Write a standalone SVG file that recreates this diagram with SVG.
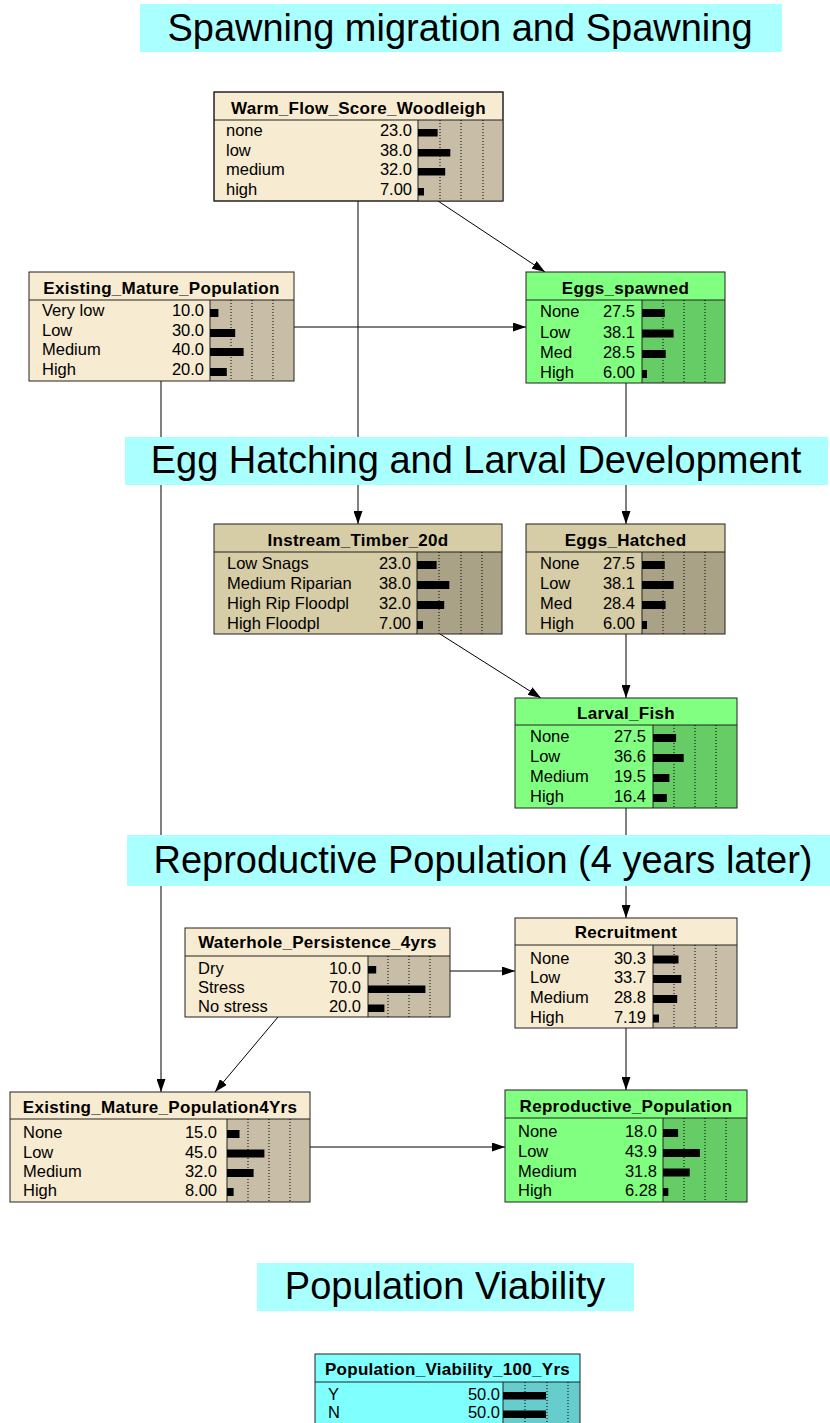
<svg xmlns="http://www.w3.org/2000/svg" width="830" height="1423" viewBox="0 0 830 1423">
<defs>
<marker id="ah" markerUnits="userSpaceOnUse" markerWidth="13" markerHeight="9" refX="13" refY="4.5" orient="auto">
<path d="M0,0 L13,4.5 L0,9 z" fill="#000"/>
</marker>
<style>
.t{font-family:"Liberation Sans",Arial,sans-serif;font-weight:bold;font-size:17px;letter-spacing:0.3px;text-anchor:middle;fill:#000}
.l{font-family:"Liberation Sans",Arial,sans-serif;font-size:16.5px;fill:#000}
.v{font-family:"Liberation Sans",Arial,sans-serif;font-size:16.5px;fill:#000;text-anchor:end}
.h{font-family:"Liberation Sans",Arial,sans-serif;font-size:38px;text-anchor:middle;fill:#000}
.hb{fill:#aaffff}
.box{stroke:#222;stroke-width:1}
.sep{stroke:#222;stroke-width:1}
.dot{stroke:#000;stroke-width:1;stroke-dasharray:1 2}
.bar{fill:#000}
.beige{fill:#f7ebd1}
.beigeb{fill:#c8bea8}
.tan{fill:#d6cca6}
.tanb{fill:#aaa287}
.green{fill:#80ff80}
.greenb{fill:#66cc66}
.cyan{fill:#80ffff}
.cyanb{fill:#66cccc}
.c{stroke:#000;stroke-width:1;fill:none;marker-end:url(#ah)}
</style>
</defs>
<rect width="830" height="1423" fill="#fff"/>

<g id="connectors">
<line class="c" x1="438" y1="201" x2="545" y2="272"/>
<line class="c" x1="358" y1="201" x2="358" y2="524"/>
<line class="c" x1="294" y1="327" x2="526" y2="327"/>
<line class="c" x1="161" y1="381" x2="161" y2="1092"/>
<line class="c" x1="626" y1="383" x2="626" y2="524"/>
<line class="c" x1="440" y1="634" x2="541" y2="698"/>
<line class="c" x1="626" y1="634" x2="626" y2="698"/>
<line class="c" x1="626" y1="808" x2="626" y2="918"/>
<line class="c" x1="450" y1="971" x2="515" y2="971"/>
<line class="c" x1="278" y1="1017" x2="215" y2="1092"/>
<line class="c" x1="626" y1="1028" x2="626" y2="1090"/>
<line class="c" x1="310" y1="1147" x2="505" y2="1147"/>
</g>

<g id="heading1"><rect class="hb" x="140" y="4" width="642" height="48"/><text class="h" x="460" y="41">Spawning migration and Spawning</text></g>
<g id="heading2"><rect class="hb" x="125" y="437" width="703" height="48"/><text class="h" x="476" y="473">Egg Hatching and Larval Development</text></g>
<g id="heading3"><rect class="hb" x="127" y="835" width="703" height="51"/><text class="h" x="483" y="873">Reproductive Population (4 years later)</text></g>
<g id="heading4"><rect class="hb" x="257" y="1263" width="377" height="48"/><text class="h" x="445" y="1299">Population Viability</text></g>

<g id="warm_flow">
<rect class="beige box" x="214" y="92" width="289" height="109"/>
<rect class="beigeb" x="418" y="120" width="85" height="81"/>
<line class="sep" x1="214" y1="120" x2="503" y2="120"/>
<line class="sep" x1="418" y1="120" x2="418" y2="201"/>
<line class="dot" x1="440" y1="120" x2="440" y2="201"/><line class="dot" x1="461" y1="120" x2="461" y2="201"/><line class="dot" x1="483" y1="120" x2="483" y2="201"/>
<rect class="box" x="214" y="92" width="289" height="109" fill="none"/>
<text class="t" x="358.5" y="114">Warm_Flow_Score_Woodleigh</text>
<text class="l" x="226" y="136">none</text><text class="v" x="412" y="136">23.0</text><rect class="bar" x="418" y="129" width="19.6" height="7.5"/>
<text class="l" x="226" y="156">low</text><text class="v" x="412" y="156">38.0</text><rect class="bar" x="418" y="149" width="32.3" height="7.5"/>
<text class="l" x="226" y="175">medium</text><text class="v" x="412" y="175">32.0</text><rect class="bar" x="418" y="168" width="27.2" height="7.5"/>
<text class="l" x="226" y="195">high</text><text class="v" x="412" y="195">7.00</text><rect class="bar" x="418" y="188" width="6" height="7.5"/>
</g>

<g id="existing_mature_population">
<rect class="beige" x="29" y="272" width="265" height="109"/>
<rect class="beigeb" x="210" y="300" width="84" height="81"/>
<line class="sep" x1="29" y1="300" x2="294" y2="300"/>
<line class="sep" x1="210" y1="300" x2="210" y2="381"/>
<line class="dot" x1="231" y1="300" x2="231" y2="381"/><line class="dot" x1="252" y1="300" x2="252" y2="381"/><line class="dot" x1="273" y1="300" x2="273" y2="381"/>
<rect class="box" x="29" y="272" width="265" height="109" fill="none"/>
<text class="t" x="161.5" y="294">Existing_Mature_Population</text>
<text class="l" x="42" y="316">Very low</text><text class="v" x="204" y="316">10.0</text><rect class="bar" x="210" y="309" width="8.4" height="8"/>
<text class="l" x="42" y="336">Low</text><text class="v" x="204" y="336">30.0</text><rect class="bar" x="210" y="329" width="25.2" height="8"/>
<text class="l" x="42" y="355">Medium</text><text class="v" x="204" y="355">40.0</text><rect class="bar" x="210" y="348" width="33.6" height="8"/>
<text class="l" x="42" y="375">High</text><text class="v" x="204" y="375">20.0</text><rect class="bar" x="210" y="368" width="16.8" height="8"/>
</g>

<g id="eggs_spawned">
<rect class="green" x="526" y="272" width="199" height="111"/>
<rect class="greenb" x="642" y="300" width="83" height="83"/>
<line class="sep" x1="526" y1="300" x2="725" y2="300"/>
<line class="sep" x1="642" y1="300" x2="642" y2="383"/>
<line class="dot" x1="663" y1="300" x2="663" y2="383"/><line class="dot" x1="684" y1="300" x2="684" y2="383"/><line class="dot" x1="705" y1="300" x2="705" y2="383"/>
<rect class="box" x="526" y="272" width="199" height="111" fill="none"/>
<text class="t" x="625.5" y="294">Eggs_spawned</text>
<text class="l" x="540" y="317">None</text><text class="v" x="635" y="317">27.5</text><rect class="bar" x="642" y="309" width="22.8" height="8"/>
<text class="l" x="540" y="337.5">Low</text><text class="v" x="635" y="337.5">38.1</text><rect class="bar" x="642" y="329.5" width="31.6" height="8"/>
<text class="l" x="540" y="358">Med</text><text class="v" x="635" y="358">28.5</text><rect class="bar" x="642" y="350" width="23.7" height="8"/>
<text class="l" x="540" y="378">High</text><text class="v" x="635" y="378">6.00</text><rect class="bar" x="642" y="370" width="5" height="8"/>
</g>

<g id="instream_timber">
<rect class="tan" x="214" y="524" width="288" height="110"/>
<rect class="tanb" x="417" y="552" width="85" height="82"/>
<line class="sep" x1="214" y1="552" x2="502" y2="552"/>
<line class="sep" x1="417" y1="552" x2="417" y2="634"/>
<line class="dot" x1="439" y1="552" x2="439" y2="634"/><line class="dot" x1="461" y1="552" x2="461" y2="634"/><line class="dot" x1="482" y1="552" x2="482" y2="634"/>
<rect class="box" x="214" y="524" width="288" height="110" fill="none"/>
<text class="t" x="358" y="546">Instream_Timber_20d</text>
<text class="l" x="227" y="569">Low Snags</text><text class="v" x="411" y="569">23.0</text><rect class="bar" x="417" y="561" width="19.6" height="8"/>
<text class="l" x="227" y="589">Medium Riparian</text><text class="v" x="411" y="589">38.0</text><rect class="bar" x="417" y="581" width="32.3" height="8"/>
<text class="l" x="227" y="609">High Rip Floodpl</text><text class="v" x="411" y="609">32.0</text><rect class="bar" x="417" y="601" width="27.2" height="8"/>
<text class="l" x="227" y="629">High Floodpl</text><text class="v" x="411" y="629">7.00</text><rect class="bar" x="417" y="621" width="6" height="8"/>
</g>

<g id="eggs_hatched">
<rect class="tan" x="526" y="524" width="199" height="110"/>
<rect class="tanb" x="642" y="552" width="83" height="82"/>
<line class="sep" x1="526" y1="552" x2="725" y2="552"/>
<line class="sep" x1="642" y1="552" x2="642" y2="634"/>
<line class="dot" x1="663" y1="552" x2="663" y2="634"/><line class="dot" x1="684" y1="552" x2="684" y2="634"/><line class="dot" x1="705" y1="552" x2="705" y2="634"/>
<rect class="box" x="526" y="524" width="199" height="110" fill="none"/>
<text class="t" x="625.5" y="546">Eggs_Hatched</text>
<text class="l" x="540" y="569">None</text><text class="v" x="635" y="569">27.5</text><rect class="bar" x="642" y="561" width="22.8" height="8"/>
<text class="l" x="540" y="589">Low</text><text class="v" x="635" y="589">38.1</text><rect class="bar" x="642" y="581" width="31.6" height="8"/>
<text class="l" x="540" y="609">Med</text><text class="v" x="635" y="609">28.4</text><rect class="bar" x="642" y="601" width="23.6" height="8"/>
<text class="l" x="540" y="629">High</text><text class="v" x="635" y="629">6.00</text><rect class="bar" x="642" y="621" width="5" height="8"/>
</g>

<g id="larval_fish">
<rect class="green" x="515" y="698" width="222" height="110"/>
<rect class="greenb" x="653" y="725" width="84" height="83"/>
<line class="sep" x1="515" y1="725" x2="737" y2="725"/>
<line class="sep" x1="653" y1="725" x2="653" y2="808"/>
<line class="dot" x1="674" y1="725" x2="674" y2="808"/><line class="dot" x1="695" y1="725" x2="695" y2="808"/><line class="dot" x1="716" y1="725" x2="716" y2="808"/>
<rect class="box" x="515" y="698" width="222" height="110" fill="none"/>
<text class="t" x="626" y="719">Larval_Fish</text>
<text class="l" x="530" y="742">None</text><text class="v" x="646" y="742">27.5</text><rect class="bar" x="653" y="734" width="23.1" height="8"/>
<text class="l" x="530" y="762">Low</text><text class="v" x="646" y="762">36.6</text><rect class="bar" x="653" y="754" width="30.7" height="8"/>
<text class="l" x="530" y="782">Medium</text><text class="v" x="646" y="782">19.5</text><rect class="bar" x="653" y="774" width="16.4" height="8"/>
<text class="l" x="530" y="802">High</text><text class="v" x="646" y="802">16.4</text><rect class="bar" x="653" y="794" width="13.8" height="8"/>
</g>

<g id="waterhole_persistence">
<rect class="beige" x="185" y="928" width="265" height="89"/>
<rect class="beigeb" x="368" y="956" width="82" height="61"/>
<line class="sep" x1="185" y1="956" x2="450" y2="956"/>
<line class="sep" x1="368" y1="956" x2="368" y2="1017"/>
<line class="dot" x1="388" y1="956" x2="388" y2="1017"/><line class="dot" x1="409" y1="956" x2="409" y2="1017"/><line class="dot" x1="430" y1="956" x2="430" y2="1017"/>
<rect class="box" x="185" y="928" width="265" height="89" fill="none"/>
<text class="t" x="317.5" y="948">Waterhole_Persistence_4yrs</text>
<text class="l" x="198" y="974">Dry</text><text class="v" x="361" y="974">10.0</text><rect class="bar" x="368" y="966" width="8.2" height="7.5"/>
<text class="l" x="198" y="993">Stress</text><text class="v" x="361" y="993">70.0</text><rect class="bar" x="368" y="985.5" width="57.4" height="7.5"/>
<text class="l" x="198" y="1012">No stress</text><text class="v" x="361" y="1012">20.0</text><rect class="bar" x="368" y="1004.5" width="16.4" height="7.5"/>
</g>

<g id="recruitment">
<rect class="beige" x="515" y="918" width="222" height="110"/>
<rect class="beigeb" x="653" y="945" width="84" height="83"/>
<line class="sep" x1="515" y1="945" x2="737" y2="945"/>
<line class="sep" x1="653" y1="945" x2="653" y2="1028"/>
<line class="dot" x1="674" y1="945" x2="674" y2="1028"/><line class="dot" x1="695" y1="945" x2="695" y2="1028"/><line class="dot" x1="716" y1="945" x2="716" y2="1028"/>
<rect class="box" x="515" y="918" width="222" height="110" fill="none"/>
<text class="t" x="626" y="938">Recruitment</text>
<text class="l" x="530" y="963.5">None</text><text class="v" x="646" y="963.5">30.3</text><rect class="bar" x="653" y="955.5" width="25.5" height="8"/>
<text class="l" x="530" y="983">Low</text><text class="v" x="646" y="983">33.7</text><rect class="bar" x="653" y="975" width="28.3" height="8"/>
<text class="l" x="530" y="1003">Medium</text><text class="v" x="646" y="1003">28.8</text><rect class="bar" x="653" y="995" width="24.2" height="8"/>
<text class="l" x="530" y="1022.5">High</text><text class="v" x="646" y="1022.5">7.19</text><rect class="bar" x="653" y="1014.5" width="6" height="8"/>
</g>

<g id="existing_mature_population_4yrs">
<rect class="beige" x="10" y="1092" width="300" height="110"/>
<rect class="beigeb" x="227" y="1119" width="83" height="83"/>
<line class="sep" x1="10" y1="1119" x2="310" y2="1119"/>
<line class="sep" x1="227" y1="1119" x2="227" y2="1202"/>
<line class="dot" x1="248" y1="1119" x2="248" y2="1202"/><line class="dot" x1="269" y1="1119" x2="269" y2="1202"/><line class="dot" x1="290" y1="1119" x2="290" y2="1202"/>
<rect class="box" x="10" y="1092" width="300" height="110" fill="none"/>
<text class="t" x="160" y="1113">Existing_Mature_Population4Yrs</text>
<text class="l" x="23" y="1138">None</text><text class="v" x="217" y="1138">15.0</text><rect class="bar" x="227" y="1130" width="12.5" height="8"/>
<text class="l" x="23" y="1157.5">Low</text><text class="v" x="217" y="1157.5">45.0</text><rect class="bar" x="227" y="1149.5" width="37.4" height="8"/>
<text class="l" x="23" y="1177">Medium</text><text class="v" x="217" y="1177">32.0</text><rect class="bar" x="227" y="1169" width="26.6" height="8"/>
<text class="l" x="23" y="1196">High</text><text class="v" x="217" y="1196">8.00</text><rect class="bar" x="227" y="1188" width="6.6" height="8"/>
</g>

<g id="reproductive_population">
<rect class="green" x="505" y="1090" width="242" height="112"/>
<rect class="greenb" x="663" y="1118" width="84" height="84"/>
<line class="sep" x1="505" y1="1118" x2="747" y2="1118"/>
<line class="sep" x1="663" y1="1118" x2="663" y2="1202"/>
<line class="dot" x1="684" y1="1118" x2="684" y2="1202"/><line class="dot" x1="705" y1="1118" x2="705" y2="1202"/><line class="dot" x1="726" y1="1118" x2="726" y2="1202"/>
<rect class="box" x="505" y="1090" width="242" height="112" fill="none"/>
<text class="t" x="626" y="1112">Reproductive_Population</text>
<text class="l" x="518" y="1137">None</text><text class="v" x="657" y="1137">18.0</text><rect class="bar" x="663" y="1129" width="15.1" height="8"/>
<text class="l" x="518" y="1157">Low</text><text class="v" x="657" y="1157">43.9</text><rect class="bar" x="663" y="1149" width="36.9" height="8"/>
<text class="l" x="518" y="1176.5">Medium</text><text class="v" x="657" y="1176.5">31.8</text><rect class="bar" x="663" y="1168.5" width="26.7" height="8"/>
<text class="l" x="518" y="1196">High</text><text class="v" x="657" y="1196">6.28</text><rect class="bar" x="663" y="1188" width="5.3" height="8"/>
</g>

<g id="population_viability">
<rect class="cyan" x="315" y="1354" width="265" height="80"/>
<rect class="cyanb" x="503" y="1382" width="77" height="52"/>
<line class="sep" x1="315" y1="1382" x2="580" y2="1382"/>
<line class="sep" x1="503" y1="1382" x2="503" y2="1434"/>
<line class="dot" x1="525" y1="1382" x2="525" y2="1434"/><line class="dot" x1="547" y1="1382" x2="547" y2="1434"/><line class="dot" x1="568" y1="1382" x2="568" y2="1434"/>
<rect class="box" x="315" y="1354" width="265" height="80" fill="none"/>
<text class="t" x="447.5" y="1375">Population_Viability_100_Yrs</text>
<text class="l" x="328" y="1400">Y</text><text class="v" x="500" y="1400">50.0</text><rect class="bar" x="503" y="1392" width="43" height="7.5"/>
<text class="l" x="328" y="1418">N</text><text class="v" x="500" y="1418">50.0</text><rect class="bar" x="503" y="1410.5" width="43" height="7.5"/>
</g>
</svg>
